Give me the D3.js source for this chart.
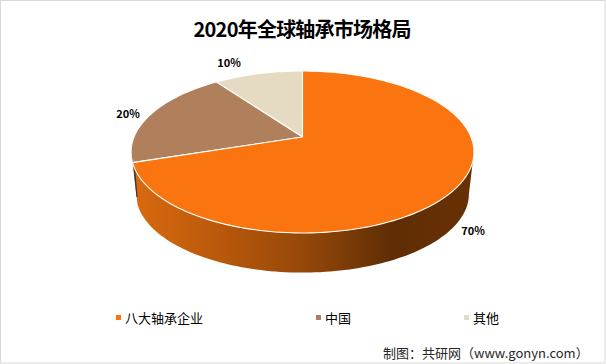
<!DOCTYPE html>
<html>
<head>
<meta charset="utf-8">
<script src="https://cdn.jsdelivr.net/npm/d3@7"></script>
<style>
    html, body { margin: 0; padding: 0; background: #fff; }
    svg { display: block; }
    text { font-family: "Noto Sans CJK SC", "Noto Sans", sans-serif; fill: #000; }
</style>
</head>
<body>
<div id="chart"></div>
<script>
var categories = ["八大轴承企业", "中国", "其他"];
var values = [70, 20, 10];
var value_labels = ["70%", "20%", "10%"];
var colors = ["#fa750f", "#b07f5b", "#e5dac2"];
var title_text = "2020年全球轴承市场格局";
//full width colon and brackets, written as escapes
var source_text = "制图\uFF1A共研网\uFF08www.gonyn.com\uFF09";

var width = 606, height = 364;

var svg = d3.select("#chart").append("svg")
    .attr("width", width)
    .attr("height", height);

svg.append("rect")
    .attr("x", 0.5).attr("y", 0.5)
    .attr("width", width - 1.5).attr("height", height - 1.5)
    .attr("fill", "#fff")
    .attr("stroke", "#d9d9d9");

//the pie is tilted with perspective, so the apex is not the middle of the outline
var depth_k = 0.185;
function project_top(angle){
    var s = -Math.cos(angle), d = 1 - depth_k * s;
    return [302.5 + 168.5 * Math.sin(angle) / d, 137 + 78.2 * s / d];
}
function project_bottom(angle){
    var s = -Math.cos(angle), d = 1 - depth_k * s;
    return [302.5 + 163.5 * Math.sin(angle) / d, 179.6 + 75.8 * s / d];
}

var pie = d3.pie().sort(null)(values);
var line = d3.line();

function angle_steps(a0, a1){
    var n = Math.max(2, Math.ceil(Math.abs(a1 - a0) * 40));
    return d3.range(n + 1).map(function(i){ return a0 + (a1 - a0) * i / n; });
}

var defs = svg.append("defs");
var side_gradient = defs.append("linearGradient")
    .attr("id", "side_gradient")
    .attr("gradientUnits", "userSpaceOnUse")
    .attr("x1", 135).attr("x2", 470).attr("y1", 0).attr("y2", 0);
side_gradient.selectAll("stop")
    .data([[0, "#d8690f"], [0.2, "#c05c0c"], [0.5, "#964809"], [0.7, "#6d3505"], [0.76, "#602d04"], [1, "#683104"]])
    .enter().append("stop")
    .attr("offset", function(d){ return d[0]; })
    .attr("stop-color", function(d){ return d[1]; });

//side wall of the big slice, starts at the widest point of the outline
var wall_end = pie[0].endAngle;
var wall_angles = angle_steps(1.757, wall_end);
var wall_points = wall_angles.map(project_top)
    .concat(wall_angles.slice().reverse().map(project_bottom));
svg.append("path")
    .attr("d", line(wall_points) + "Z")
    .attr("fill", "url(#side_gradient)");

//dark sliver where the wall meets the smaller slices
svg.append("path")
    .attr("d", line([[133, 163], [134.6, 163], [137.6, 197], [136.4, 197]]) + "Z")
    .attr("fill", "#3d3530");

//top faces, drawn from the small slices up to the big one
pie.slice().reverse().forEach(function(d){
    var pts = [[302.5, 137]].concat(angle_steps(d.startAngle, d.endAngle).map(project_top));
    svg.append("path")
        .attr("d", line(pts) + "Z")
        .attr("fill", colors[d.index])
        .attr("stroke", "#fff")
        .attr("stroke-width", 1.1)
        .attr("stroke-linejoin", "round");
});

//label anchor spots
var label_spots = [[473, 235], [128, 118], [229, 67]];
svg.selectAll(".value_label")
    .data(value_labels)
    .enter().append("text")
    .attr("class", "value_label")
    .attr("x", function(d, i){ return label_spots[i][0]; })
    .attr("y", function(d, i){ return label_spots[i][1]; })
    .attr("text-anchor", "middle")
    .attr("font-size", "11px")
    .attr("font-weight", "bold")
    .text(function(d){ return d; });

svg.append("text")
    .attr("x", 302.5).attr("y", 37)
    .attr("text-anchor", "middle")
    .attr("font-size", "20px")
    .attr("font-weight", "bold")
    .attr("textLength", 218)
    .text(title_text);

//legend
var legend_x = [116, 316, 464];
svg.selectAll(".legend_rect")
    .data(categories)
    .enter().append("rect")
    .attr("class", "legend_rect")
    .attr("x", function(d, i){ return legend_x[i]; })
    .attr("y", 315)
    .attr("width", 5).attr("height", 5)
    .attr("fill", function(d, i){ return colors[i]; });
svg.selectAll(".legend_text")
    .data(categories)
    .enter().append("text")
    .attr("class", "legend_text")
    .attr("x", function(d, i){ return legend_x[i] + 9; })
    .attr("y", 323)
    .attr("font-size", "13px")
    .text(function(d){ return d; });

svg.append("text")
    .attr("x", 383).attr("y", 358)
    .attr("font-size", "13px")
    .style("fill", "#262626")
    .text(source_text);
</script>
</body>
</html>
